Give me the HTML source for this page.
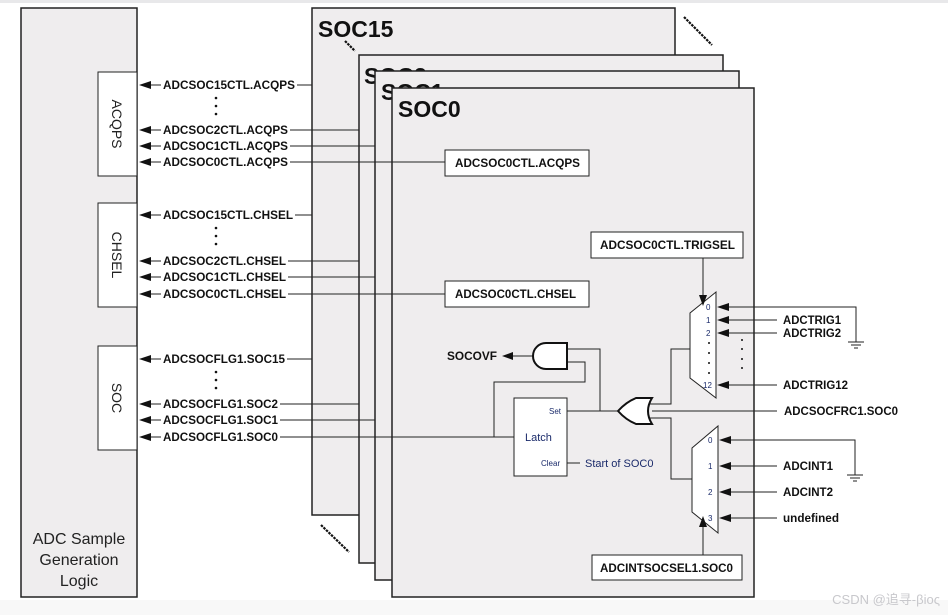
<!DOCTYPE html>
<html><head><meta charset="utf-8"><style>
html,body{margin:0;padding:0;background:#fff;}
svg{display:block;font-family:"Liberation Sans",Arial,sans-serif;}
.b{font-weight:bold;font-size:11.5px;fill:#111;}
.n{font-size:8px;fill:#1a2a6a;}
</style></head><body>
<svg width="948" height="615" viewBox="0 0 948 615" xmlns="http://www.w3.org/2000/svg">
<rect x="0" y="0" width="948" height="3" fill="#e8e8ea"/>
<rect x="0" y="600" width="948" height="15" fill="#f8f8f8"/>
<rect x="21" y="8" width="116" height="589" fill="#efedee" stroke="#222" stroke-width="1.5"/>
<rect x="98" y="72" width="39" height="104" fill="#fff" stroke="#222"/>
<rect x="98" y="203" width="39" height="104" fill="#fff" stroke="#222"/>
<rect x="98" y="346" width="39" height="104" fill="#fff" stroke="#222"/>
<text transform="translate(112,124) rotate(90)" text-anchor="middle" font-size="14" fill="#222">ACQPS</text>
<text transform="translate(112,255) rotate(90)" text-anchor="middle" font-size="14" fill="#222">CHSEL</text>
<text transform="translate(112,398) rotate(90)" text-anchor="middle" font-size="14" fill="#222">SOC</text>
<text x="79" y="544" text-anchor="middle" font-size="16" fill="#222">ADC Sample</text>
<text x="79" y="565" text-anchor="middle" font-size="16" fill="#222">Generation</text>
<text x="79" y="586" text-anchor="middle" font-size="16" fill="#222">Logic</text>
<rect x="312" y="8" width="363" height="507" fill="#efedee" stroke="#222" stroke-width="1.5"/>
<text x="318" y="37" font-size="23" font-weight="bold" fill="#111">SOC15</text>
<rect x="359" y="55" width="364" height="508" fill="#efedee" stroke="#222" stroke-width="1.5"/>
<text x="364" y="84" font-size="23" font-weight="bold" fill="#111">SOC2</text>
<rect x="375" y="71" width="364" height="509" fill="#efedee" stroke="#222" stroke-width="1.5"/>
<text x="381" y="100" font-size="23" font-weight="bold" fill="#111">SOC1</text>
<rect x="392" y="88" width="362" height="509" fill="#efedee" stroke="#222" stroke-width="1.5"/>
<text x="398" y="117" font-size="23" font-weight="bold" fill="#111">SOC0</text>
<g stroke="#111" stroke-width="2.2" stroke-dasharray="2.5,1">
<line x1="684" y1="17" x2="712" y2="45"/>
<line x1="321" y1="525" x2="349" y2="552"/>
<line x1="345" y1="41" x2="355" y2="51"/>
</g>
<g stroke="#222" stroke-width="1" fill="none">
<line x1="150" y1="85" x2="312" y2="85"/>
<line x1="150" y1="130" x2="359" y2="130"/>
<line x1="150" y1="146" x2="375" y2="146"/>
<line x1="150" y1="162" x2="445" y2="162"/>
<line x1="150" y1="215" x2="312" y2="215"/>
<line x1="150" y1="261" x2="359" y2="261"/>
<line x1="150" y1="277" x2="375" y2="277"/>
<line x1="150" y1="294" x2="445" y2="294"/>
<line x1="150" y1="359" x2="312" y2="359"/>
<line x1="150" y1="404" x2="359" y2="404"/>
<line x1="150" y1="420" x2="375" y2="420"/>
<line x1="150" y1="437" x2="514" y2="437"/>
</g>
<g fill="#111">
<path d="M139,85 l12,-4 v8z"/><path d="M139,130 l12,-4 v8z"/><path d="M139,146 l12,-4 v8z"/><path d="M139,162 l12,-4 v8z"/>
<path d="M139,215 l12,-4 v8z"/><path d="M139,261 l12,-4 v8z"/><path d="M139,277 l12,-4 v8z"/><path d="M139,294 l12,-4 v8z"/>
<path d="M139,359 l12,-4 v8z"/><path d="M139,404 l12,-4 v8z"/><path d="M139,420 l12,-4 v8z"/><path d="M139,437 l12,-4 v8z"/>
</g>
<g class="b">
<rect x="161" y="78" width="136" height="14" fill="#fff"/>
<text x="163" y="89" textLength="132" lengthAdjust="spacingAndGlyphs">ADCSOC15CTL.ACQPS</text>
<rect x="161" y="123" width="129" height="44" fill="#fff"/>
<text x="163" y="134" textLength="125" lengthAdjust="spacingAndGlyphs">ADCSOC2CTL.ACQPS</text>
<text x="163" y="150" textLength="125" lengthAdjust="spacingAndGlyphs">ADCSOC1CTL.ACQPS</text>
<text x="163" y="166" textLength="125" lengthAdjust="spacingAndGlyphs">ADCSOC0CTL.ACQPS</text>
<rect x="161" y="208" width="134" height="14" fill="#fff"/>
<text x="163" y="219" textLength="130" lengthAdjust="spacingAndGlyphs">ADCSOC15CTL.CHSEL</text>
<rect x="161" y="254" width="127" height="45" fill="#fff"/>
<text x="163" y="265" textLength="123" lengthAdjust="spacingAndGlyphs">ADCSOC2CTL.CHSEL</text>
<text x="163" y="281" textLength="123" lengthAdjust="spacingAndGlyphs">ADCSOC1CTL.CHSEL</text>
<text x="163" y="298" textLength="123" lengthAdjust="spacingAndGlyphs">ADCSOC0CTL.CHSEL</text>
<rect x="161" y="352" width="126" height="14" fill="#fff"/>
<text x="163" y="363" textLength="122" lengthAdjust="spacingAndGlyphs">ADCSOCFLG1.SOC15</text>
<rect x="161" y="397" width="119" height="45" fill="#fff"/>
<text x="163" y="408" textLength="115" lengthAdjust="spacingAndGlyphs">ADCSOCFLG1.SOC2</text>
<text x="163" y="424" textLength="115" lengthAdjust="spacingAndGlyphs">ADCSOCFLG1.SOC1</text>
<text x="163" y="441" textLength="115" lengthAdjust="spacingAndGlyphs">ADCSOCFLG1.SOC0</text>
</g>
<g fill="#111">
<circle cx="216" cy="98" r="1.3"/><circle cx="216" cy="106" r="1.3"/><circle cx="216" cy="114" r="1.3"/>
<circle cx="216" cy="228" r="1.3"/><circle cx="216" cy="236" r="1.3"/><circle cx="216" cy="244" r="1.3"/>
<circle cx="216" cy="372" r="1.3"/><circle cx="216" cy="380" r="1.3"/><circle cx="216" cy="388" r="1.3"/>
</g>
<g fill="#fff" stroke="#222">
<rect x="445" y="150" width="144" height="26"/>
<rect x="445" y="281" width="144" height="26"/>
<rect x="591" y="232" width="152" height="26"/>
<rect x="592" y="555" width="150" height="25"/>
<rect x="514" y="398" width="53" height="78"/>
</g>
<g class="b">
<text x="455" y="167" textLength="125" lengthAdjust="spacingAndGlyphs">ADCSOC0CTL.ACQPS</text>
<text x="455" y="298" textLength="121" lengthAdjust="spacingAndGlyphs">ADCSOC0CTL.CHSEL</text>
<text x="600" y="249" textLength="135" lengthAdjust="spacingAndGlyphs">ADCSOC0CTL.TRIGSEL</text>
<text x="600" y="572" textLength="133" lengthAdjust="spacingAndGlyphs">ADCINTSOCSEL1.SOC0</text>
<text x="447" y="360" textLength="50" lengthAdjust="spacingAndGlyphs">SOCOVF</text>
<text x="783" y="324" textLength="58" lengthAdjust="spacingAndGlyphs">ADCTRIG1</text>
<text x="783" y="337" textLength="58" lengthAdjust="spacingAndGlyphs">ADCTRIG2</text>
<text x="783" y="389" textLength="65" lengthAdjust="spacingAndGlyphs">ADCTRIG12</text>
<text x="784" y="415" textLength="114" lengthAdjust="spacingAndGlyphs">ADCSOCFRC1.SOC0</text>
<text x="783" y="470" textLength="50" lengthAdjust="spacingAndGlyphs">ADCINT1</text>
<text x="783" y="496" textLength="50" lengthAdjust="spacingAndGlyphs">ADCINT2</text>
<text x="783" y="522" textLength="56" lengthAdjust="spacingAndGlyphs">undefined</text>
</g>
<text x="549" y="414" font-size="8" fill="#1a2a6a">Set</text>
<text x="525" y="441" font-size="11" fill="#1a2a6a">Latch</text>
<text x="541" y="466" font-size="8" fill="#1a2a6a">Clear</text>
<text x="585" y="467" font-size="11" fill="#1a2a6a">Start of SOC0</text>
<path d="M690,313 L716,292 L716,398 L690,378 Z" fill="#fff" stroke="#222"/>
<path d="M692,448 L718,426 L718,533 L692,512 Z" fill="#fff" stroke="#222"/>
<g class="n">
<text x="706" y="310">0</text><text x="706" y="323">1</text><text x="706" y="336">2</text><text x="703" y="388">12</text>
<text x="708" y="443">0</text><text x="708" y="469">1</text><text x="708" y="495">2</text><text x="708" y="521">3</text>
</g>
<g fill="#111">
<circle cx="709" cy="343" r="1"/><circle cx="709" cy="353" r="1"/><circle cx="709" cy="363" r="1"/><circle cx="709" cy="373" r="1"/>
<circle cx="742" cy="340" r="1"/><circle cx="742" cy="349" r="1"/><circle cx="742" cy="359" r="1"/><circle cx="742" cy="368" r="1"/>
</g>
<g stroke="#222" stroke-width="1" fill="none">
<line x1="703" y1="258" x2="703" y2="300"/>
<line x1="703" y1="555" x2="703" y2="522"/>
<polyline points="728,307 856,307 856,342"/>
<line x1="848" y1="342" x2="864" y2="342"/><line x1="851" y1="345" x2="861" y2="345"/><line x1="854" y1="348" x2="858" y2="348"/>
<line x1="728" y1="320" x2="777" y2="320"/>
<line x1="728" y1="333" x2="777" y2="333"/>
<line x1="728" y1="385" x2="777" y2="385"/>
<polyline points="730,440 855,440 855,475"/>
<line x1="847" y1="475" x2="863" y2="475"/><line x1="850" y1="478" x2="860" y2="478"/><line x1="853" y1="481" x2="857" y2="481"/>
<line x1="730" y1="466" x2="777" y2="466"/>
<line x1="730" y1="492" x2="777" y2="492"/>
<line x1="730" y1="518" x2="777" y2="518"/>
<line x1="652" y1="411" x2="777" y2="411"/>
<polyline points="690,349 671,349 671,404 650,404"/>
<polyline points="692,479 671,479 671,418 650,418"/>
<line x1="567" y1="411" x2="618" y2="411"/>
<polyline points="567,349 600,349 600,411"/>
<polyline points="567,362 585,362 585,382 494,382 494,437"/>
<line x1="533" y1="356" x2="512" y2="356"/>
<line x1="567" y1="463" x2="580" y2="463"/>
</g>
<g fill="#111">
<path d="M703,306 l-4,-11 h8z"/>
<path d="M703,516 l-4,11 h8z"/>
<path d="M717,307 l12,-4 v8z"/><path d="M717,320 l12,-4 v8z"/><path d="M717,333 l12,-4 v8z"/><path d="M717,385 l12,-4 v8z"/>
<path d="M719,440 l12,-4 v8z"/><path d="M719,466 l12,-4 v8z"/><path d="M719,492 l12,-4 v8z"/><path d="M719,518 l12,-4 v8z"/>
<path d="M502,356 l11,-4 v8z"/>
</g>
<path d="M567,343 L546,343 A13,13 0 0 0 546,369 L567,369 Z" fill="#fff" stroke="#111" stroke-width="2"/>
<path d="M652,398 Q644,411 652,424 L636,424 Q626,420 618,411 Q626,402 636,398 Z" fill="#fff" stroke="#111" stroke-width="2"/>
<text x="940" y="604" text-anchor="end" font-size="13" fill="#c8c8cc" font-family="Liberation Sans, Noto Sans CJK SC, sans-serif">CSDN @追寻-βioς</text>
</svg>
</body></html>
